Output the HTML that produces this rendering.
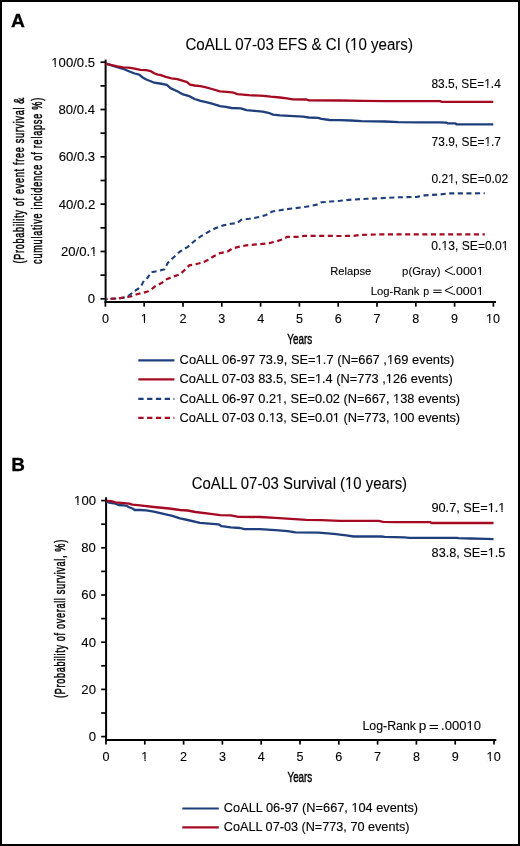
<!DOCTYPE html>
<html><head><meta charset="utf-8"><style>
html,body{margin:0;padding:0;background:#fff;}
body{width:520px;height:846px;overflow:hidden;}
svg{display:block;will-change:transform;}
text{font-family:"Liberation Sans",sans-serif;}
</style></head><body>
<svg width="520" height="846" viewBox="0 0 520 846">
<rect x="1" y="1" width="518" height="844" fill="#fff" stroke="#000" stroke-width="2"/>
<text x="10.98" y="27.10" font-size="18.5" font-weight="bold" textLength="13.90" lengthAdjust="spacingAndGlyphs" fill="#000" stroke="#000" stroke-width="0.3">A</text>
<text x="185.44" y="50.40" font-size="15.8" textLength="227.49" lengthAdjust="spacingAndGlyphs" fill="#000" stroke="#000" stroke-width="0.1">CoALL 07-03 EFS &amp; CI (10 years)</text>
<rect x="350.70" y="47.92" width="3.12" height="2.88" fill="#fff"/>
<rect x="355.19" y="47.92" width="3.01" height="2.88" fill="#fff"/>
<line x1="105.6" y1="59.6" x2="105.6" y2="302.9" stroke="#000" stroke-width="2"/>
<line x1="104.6" y1="301.9" x2="496.0" y2="301.9" stroke="#000" stroke-width="2"/>
<line x1="100.5" y1="298.8" x2="105.6" y2="298.8" stroke="#000" stroke-width="1.7"/>
<line x1="100.5" y1="275.14" x2="105.6" y2="275.14" stroke="#000" stroke-width="1.7"/>
<line x1="100.5" y1="251.48000000000002" x2="105.6" y2="251.48000000000002" stroke="#000" stroke-width="1.7"/>
<line x1="100.5" y1="227.82" x2="105.6" y2="227.82" stroke="#000" stroke-width="1.7"/>
<line x1="100.5" y1="204.16000000000003" x2="105.6" y2="204.16000000000003" stroke="#000" stroke-width="1.7"/>
<line x1="100.5" y1="180.5" x2="105.6" y2="180.5" stroke="#000" stroke-width="1.7"/>
<line x1="100.5" y1="156.84" x2="105.6" y2="156.84" stroke="#000" stroke-width="1.7"/>
<line x1="100.5" y1="133.18" x2="105.6" y2="133.18" stroke="#000" stroke-width="1.7"/>
<line x1="100.5" y1="109.52000000000001" x2="105.6" y2="109.52000000000001" stroke="#000" stroke-width="1.7"/>
<line x1="100.5" y1="85.86000000000001" x2="105.6" y2="85.86000000000001" stroke="#000" stroke-width="1.7"/>
<line x1="100.5" y1="62.19999999999999" x2="105.6" y2="62.19999999999999" stroke="#000" stroke-width="1.7"/>
<line x1="105.4" y1="301.9" x2="105.4" y2="306.7" stroke="#000" stroke-width="1.7"/>
<line x1="144.2" y1="301.9" x2="144.2" y2="306.7" stroke="#000" stroke-width="1.7"/>
<line x1="183.0" y1="301.9" x2="183.0" y2="306.7" stroke="#000" stroke-width="1.7"/>
<line x1="221.8" y1="301.9" x2="221.8" y2="306.7" stroke="#000" stroke-width="1.7"/>
<line x1="260.6" y1="301.9" x2="260.6" y2="306.7" stroke="#000" stroke-width="1.7"/>
<line x1="299.4" y1="301.9" x2="299.4" y2="306.7" stroke="#000" stroke-width="1.7"/>
<line x1="338.2" y1="301.9" x2="338.2" y2="306.7" stroke="#000" stroke-width="1.7"/>
<line x1="377.0" y1="301.9" x2="377.0" y2="306.7" stroke="#000" stroke-width="1.7"/>
<line x1="415.79999999999995" y1="301.9" x2="415.79999999999995" y2="306.7" stroke="#000" stroke-width="1.7"/>
<line x1="454.6" y1="301.9" x2="454.6" y2="306.7" stroke="#000" stroke-width="1.7"/>
<line x1="493.4" y1="301.9" x2="493.4" y2="306.7" stroke="#000" stroke-width="1.7"/>
<text x="87.77" y="303.25" font-size="12.5" textLength="7.30" lengthAdjust="spacingAndGlyphs" fill="#000" stroke="#000" stroke-width="0.1">0</text>
<text x="60.95" y="255.93" font-size="12.5" textLength="36.49" lengthAdjust="spacingAndGlyphs" fill="#000" stroke="#000" stroke-width="0.1">20/0.1</text>
<rect x="90.64" y="253.70" width="2.78" height="2.63" fill="#fff"/>
<rect x="94.62" y="253.70" width="2.68" height="2.63" fill="#fff"/>
<text x="58.79" y="208.61" font-size="12.5" textLength="36.49" lengthAdjust="spacingAndGlyphs" fill="#000" stroke="#000" stroke-width="0.1">40/0.2</text>
<text x="58.69" y="161.29" font-size="12.5" textLength="36.49" lengthAdjust="spacingAndGlyphs" fill="#000" stroke="#000" stroke-width="0.1">60/0.3</text>
<text x="58.48" y="113.97" font-size="12.5" textLength="36.49" lengthAdjust="spacingAndGlyphs" fill="#000" stroke="#000" stroke-width="0.1">80/0.4</text>
<text x="51.34" y="66.65" font-size="12.5" textLength="43.79" lengthAdjust="spacingAndGlyphs" fill="#000" stroke="#000" stroke-width="0.1">100/0.5</text>
<rect x="51.84" y="64.42" width="2.78" height="2.63" fill="#fff"/>
<rect x="55.82" y="64.42" width="2.68" height="2.63" fill="#fff"/>
<text x="101.90" y="322.90" font-size="12.6" textLength="7.01" lengthAdjust="spacingAndGlyphs" fill="#000" stroke="#000" stroke-width="0.1">0</text>
<text x="140.75" y="322.90" font-size="12.6" textLength="7.01" lengthAdjust="spacingAndGlyphs" fill="#000" stroke="#000" stroke-width="0.1">1</text>
<rect x="141.21" y="320.66" width="2.69" height="2.64" fill="#fff"/>
<rect x="145.06" y="320.66" width="2.59" height="2.64" fill="#fff"/>
<text x="179.50" y="322.90" font-size="12.6" textLength="7.01" lengthAdjust="spacingAndGlyphs" fill="#000" stroke="#000" stroke-width="0.1">2</text>
<text x="218.30" y="322.90" font-size="12.6" textLength="7.01" lengthAdjust="spacingAndGlyphs" fill="#000" stroke="#000" stroke-width="0.1">3</text>
<text x="257.15" y="322.90" font-size="12.6" textLength="7.01" lengthAdjust="spacingAndGlyphs" fill="#000" stroke="#000" stroke-width="0.1">4</text>
<text x="295.90" y="322.90" font-size="12.6" textLength="7.01" lengthAdjust="spacingAndGlyphs" fill="#000" stroke="#000" stroke-width="0.1">5</text>
<text x="334.65" y="322.90" font-size="12.6" textLength="7.01" lengthAdjust="spacingAndGlyphs" fill="#000" stroke="#000" stroke-width="0.1">6</text>
<text x="373.50" y="322.90" font-size="12.6" textLength="7.01" lengthAdjust="spacingAndGlyphs" fill="#000" stroke="#000" stroke-width="0.1">7</text>
<text x="412.30" y="322.90" font-size="12.6" textLength="7.01" lengthAdjust="spacingAndGlyphs" fill="#000" stroke="#000" stroke-width="0.1">8</text>
<text x="451.10" y="322.90" font-size="12.6" textLength="7.01" lengthAdjust="spacingAndGlyphs" fill="#000" stroke="#000" stroke-width="0.1">9</text>
<text x="486.04" y="322.90" font-size="12.6" textLength="14.02" lengthAdjust="spacingAndGlyphs" fill="#000" stroke="#000" stroke-width="0.1">10</text>
<rect x="486.50" y="320.66" width="2.69" height="2.64" fill="#fff"/>
<rect x="490.35" y="320.66" width="2.59" height="2.64" fill="#fff"/>
<text transform="translate(24.30,263.43) rotate(-90) scale(0.64,1)" font-size="14.3" textLength="259.22" lengthAdjust="spacing" stroke="#000" stroke-width="0.5">(Probability of event free survival &amp;</text>
<text transform="translate(41.60,263.93) rotate(-90) scale(0.64,1)" font-size="14.3" textLength="259.64" lengthAdjust="spacing" stroke="#000" stroke-width="0.5">cumulative incidence of relapse %)</text>
<text x="287.34" y="344.00" font-size="15.1" textLength="24.83" lengthAdjust="spacingAndGlyphs" fill="#000" stroke="#000" stroke-width="0.45">Years</text>
<text x="431.40" y="87.60" font-size="12" textLength="69.42" lengthAdjust="spacingAndGlyphs" fill="#000" stroke="#000" stroke-width="0.1">83.5, SE=1.4</text>
<rect x="484.62" y="85.40" width="2.57" height="2.60" fill="#fff"/>
<rect x="488.29" y="85.40" width="2.48" height="2.60" fill="#fff"/>
<text x="431.60" y="145.60" font-size="12" textLength="69.42" lengthAdjust="spacingAndGlyphs" fill="#000" stroke="#000" stroke-width="0.1">73.9, SE=1.7</text>
<rect x="484.82" y="143.40" width="2.57" height="2.60" fill="#fff"/>
<rect x="488.49" y="143.40" width="2.48" height="2.60" fill="#fff"/>
<text x="431.40" y="182.70" font-size="12" textLength="76.80" lengthAdjust="spacingAndGlyphs" fill="#000" stroke="#000" stroke-width="0.1">0.21, SE=0.02</text>
<rect x="448.59" y="180.50" width="2.59" height="2.60" fill="#fff"/>
<rect x="452.29" y="180.50" width="2.50" height="2.60" fill="#fff"/>
<text x="431.39" y="250.30" font-size="12" textLength="77.23" lengthAdjust="spacingAndGlyphs" fill="#000" stroke="#000" stroke-width="0.1">0.13, SE=0.01</text>
<rect x="441.94" y="248.10" width="2.61" height="2.60" fill="#fff"/>
<rect x="445.65" y="248.10" width="2.51" height="2.60" fill="#fff"/>
<rect x="502.30" y="248.10" width="2.61" height="2.60" fill="#fff"/>
<rect x="506.02" y="248.10" width="2.51" height="2.60" fill="#fff"/>
<text x="330.21" y="274.80" font-size="11.3" textLength="41.15" lengthAdjust="spacingAndGlyphs" fill="#000" stroke="#000" stroke-width="0.1">Relapse</text>
<text x="402.10" y="274.80" font-size="11.3" textLength="38.40" lengthAdjust="spacingAndGlyphs" fill="#000" stroke="#000" stroke-width="0.1">p(Gray)</text>
<path d="M452.7,266.7 L444.9,270.8 L453.2,274.6" fill="none" stroke="#000" stroke-width="1"/>
<text x="452.60" y="274.80" font-size="11.3" textLength="30.97" lengthAdjust="spacingAndGlyphs" fill="#000" stroke="#000" stroke-width="0.1">.0001</text>
<rect x="477.14" y="272.66" width="2.65" height="2.54" fill="#fff"/>
<rect x="480.92" y="272.66" width="2.55" height="2.54" fill="#fff"/>
<text x="370.70" y="294.60" font-size="11.3" textLength="48.79" lengthAdjust="spacingAndGlyphs" fill="#000" stroke="#000" stroke-width="0.1">Log-Rank</text>
<text x="423.34" y="294.60" font-size="11.3" textLength="5.91" lengthAdjust="spacingAndGlyphs" fill="#000" stroke="#000" stroke-width="0.1">p</text>
<line x1="433.3" y1="290.2" x2="441.6" y2="290.2" stroke="#000" stroke-width="0.95"/>
<line x1="433.3" y1="292.5" x2="441.6" y2="292.5" stroke="#000" stroke-width="0.95"/>
<path d="M452.8,286.5 L444.9,290.5 L453.3,294.2" fill="none" stroke="#000" stroke-width="1"/>
<text x="452.50" y="294.60" font-size="11.3" textLength="31.09" lengthAdjust="spacingAndGlyphs" fill="#000" stroke="#000" stroke-width="0.1">.0001</text>
<rect x="477.13" y="292.46" width="2.66" height="2.54" fill="#fff"/>
<rect x="480.92" y="292.46" width="2.56" height="2.54" fill="#fff"/>
<path d="M138.3,360.3 L174.4,360.3" fill="none" stroke="#1f3f7c" stroke-width="2.2" stroke-linejoin="round"/>
<text x="179.58" y="364.20" font-size="12.5" textLength="274.72" lengthAdjust="spacingAndGlyphs" fill="#000" stroke="#000" stroke-width="0.12">CoALL 06-97 73.9, SE=1.7 (N=667 ,169 events)</text>
<rect x="316.12" y="361.97" width="2.74" height="2.63" fill="#fff"/>
<rect x="320.04" y="361.97" width="2.64" height="2.63" fill="#fff"/>
<rect x="387.42" y="361.97" width="2.74" height="2.63" fill="#fff"/>
<rect x="391.34" y="361.97" width="2.64" height="2.63" fill="#fff"/>
<path d="M138.3,379.4 L174.4,379.4" fill="none" stroke="#a50a22" stroke-width="2.2" stroke-linejoin="round"/>
<text x="179.58" y="383.40" font-size="12.5" textLength="273.22" lengthAdjust="spacingAndGlyphs" fill="#000" stroke="#000" stroke-width="0.12">CoALL 07-03 83.5, SE=1.4 (N=773 ,126 events)</text>
<rect x="315.37" y="381.17" width="2.73" height="2.63" fill="#fff"/>
<rect x="319.27" y="381.17" width="2.63" height="2.63" fill="#fff"/>
<rect x="386.28" y="381.17" width="2.73" height="2.63" fill="#fff"/>
<rect x="390.18" y="381.17" width="2.63" height="2.63" fill="#fff"/>
<path d="M138.3,398.8 L174.4,398.8" fill="none" stroke="#1f3f7c" stroke-width="2.2" stroke-linejoin="round" stroke-dasharray="5.3 3.5"/>
<text x="179.58" y="402.60" font-size="12.5" textLength="280.57" lengthAdjust="spacingAndGlyphs" fill="#000" stroke="#000" stroke-width="0.12">CoALL 06-97 0.21, SE=0.02 (N=667, 138 events)</text>
<rect x="276.60" y="400.37" width="2.73" height="2.63" fill="#fff"/>
<rect x="280.50" y="400.37" width="2.63" height="2.63" fill="#fff"/>
<rect x="393.58" y="400.37" width="2.73" height="2.63" fill="#fff"/>
<rect x="397.48" y="400.37" width="2.63" height="2.63" fill="#fff"/>
<path d="M138.3,417.9 L174.4,417.9" fill="none" stroke="#a50a22" stroke-width="2.2" stroke-linejoin="round" stroke-dasharray="5.3 3.5"/>
<text x="179.58" y="421.60" font-size="12.5" textLength="280.57" lengthAdjust="spacingAndGlyphs" fill="#000" stroke="#000" stroke-width="0.12">CoALL 07-03 0.13, SE=0.01 (N=773, 100 events)</text>
<rect x="269.46" y="419.37" width="2.73" height="2.63" fill="#fff"/>
<rect x="273.37" y="419.37" width="2.63" height="2.63" fill="#fff"/>
<rect x="333.31" y="419.37" width="2.73" height="2.63" fill="#fff"/>
<rect x="337.21" y="419.37" width="2.63" height="2.63" fill="#fff"/>
<rect x="393.58" y="419.37" width="2.73" height="2.63" fill="#fff"/>
<rect x="397.48" y="419.37" width="2.63" height="2.63" fill="#fff"/>
<path d="M105.8,63.6 L111.5,65.4 L117.3,67.1 L123.1,68.8 L128.8,71.2 L134.6,73.5 L139.2,74.6 L142.7,77.5 L146.2,79.5 L150.8,81.3 L154.2,82.7 L160.0,83.5 L166.9,84.8 L170.4,88.1 L177.3,91.3 L183.1,94.4 L190.0,96.4 L194.6,99.0 L200.4,100.8 L206.2,102.2 L211.9,103.7 L217.7,105.4 L220.0,106.2 L225.8,106.8 L231.5,108.0 L240.8,108.3 L246.5,110.2 L254.6,110.9 L262.7,111.7 L269.6,113.2 L273.1,114.6 L280.0,115.4 L289.2,115.9 L303.1,116.7 L308.8,117.5 L318.1,117.9 L321.5,118.8 L329.6,120.0 L340.0,120.1 L350.8,120.5 L361.5,121.2 L384.6,121.5 L398.5,122.2 L420.0,122.3 L438.5,122.4 L446.5,122.6 L447.5,123.3 L455.5,123.4 L456.5,124.3 L493.3,124.3" fill="none" stroke="#1f3f7c" stroke-width="2.3" stroke-linejoin="round"/>
<path d="M105.8,63.6 L111.5,65.0 L117.3,66.3 L123.1,67.3 L128.8,67.7 L134.6,68.6 L140.4,69.8 L146.2,70.2 L150.8,71.2 L154.2,73.2 L157.7,74.6 L160.0,74.8 L165.8,76.8 L171.5,78.3 L177.3,79.1 L183.1,80.9 L187.1,82.1 L190.0,84.6 L194.6,85.5 L200.4,86.1 L206.2,87.3 L211.9,89.0 L220.0,91.4 L226.9,91.9 L233.8,92.7 L237.3,94.1 L248.8,95.2 L263.8,95.8 L270.8,96.7 L280.0,97.5 L286.9,98.3 L292.7,99.4 L306.5,99.5 L308.8,100.3 L340.0,100.5 L363.0,100.9 L386.0,101.1 L440.0,101.1 L441.5,101.8 L493.3,101.8" fill="none" stroke="#a50a22" stroke-width="2.3" stroke-linejoin="round"/>
<path d="M106.2,298.9 L118.5,298.5 L124.6,297.4 L129.2,295.4 L133.8,291.5 L138.5,288.5 L141.5,285.4 L143.8,280.8 L147.7,277.7 L150.8,272.3 L156.9,271.2 L164.6,269.2 L167.7,263.1 L172.3,258.5 L180.0,251.5 L187.7,246.9 L195.4,240.3 L200.0,236.9 L207.7,232.3 L215.4,228.2 L223.1,225.4 L230.8,223.8 L236.9,223.1 L241.5,219.7 L249.2,218.8 L260.0,216.9 L266.2,214.9 L272.3,211.5 L280.0,210.3 L286.2,209.2 L295.4,208.2 L309.2,206.2 L316.9,204.6 L321.5,202.3 L330.8,201.5 L340.0,200.8 L351.5,199.6 L366.9,198.8 L378.5,198.3 L397.7,197.3 L416.9,196.9 L424.6,195.4 L440.0,194.4 L450.0,193.4 L484.8,193.3" fill="none" stroke="#1f3f7c" stroke-width="2.1" stroke-linejoin="round" stroke-dasharray="5.1 3.5" stroke-dashoffset="3.63"/>
<path d="M106.2,298.9 L118.5,298.5 L124.6,297.4 L130.8,296.5 L136.9,294.3 L143.1,292.8 L147.7,291.5 L151.5,289.2 L155.4,286.2 L161.5,283.1 L166.2,279.5 L172.3,276.9 L180.0,274.4 L184.6,270.0 L189.2,265.4 L195.4,264.3 L203.1,262.3 L207.7,260.0 L213.8,256.2 L220.0,253.1 L227.7,251.5 L232.3,248.5 L238.5,246.9 L246.2,245.4 L253.8,244.6 L260.0,244.2 L269.2,243.1 L276.9,241.2 L283.1,239.2 L286.9,236.9 L298.5,236.9 L304.6,235.8 L340.0,236.0 L353.5,235.8 L359.2,235.0 L378.5,234.4 L484.8,234.4" fill="none" stroke="#a50a22" stroke-width="2.2" stroke-linejoin="round" stroke-dasharray="5.1 3.5" stroke-dashoffset="4.57"/>
<text x="11.20" y="470.60" font-size="18.9" font-weight="bold" textLength="13.65" lengthAdjust="spacingAndGlyphs" fill="#000" stroke="#000" stroke-width="0.3">B</text>
<text x="191.75" y="488.80" font-size="15.8" textLength="215.32" lengthAdjust="spacingAndGlyphs" fill="#000" stroke="#000" stroke-width="0.1">CoALL 07-03 Survival (10 years)</text>
<rect x="345.67" y="486.32" width="3.09" height="2.88" fill="#fff"/>
<rect x="350.12" y="486.32" width="2.97" height="2.88" fill="#fff"/>
<line x1="106.1" y1="497.3" x2="106.1" y2="741.1" stroke="#000" stroke-width="2"/>
<line x1="105.1" y1="740.1" x2="496.3" y2="740.1" stroke="#000" stroke-width="2"/>
<line x1="101.2" y1="736.6" x2="106.1" y2="736.6" stroke="#000" stroke-width="1.7"/>
<line x1="101.2" y1="713.0" x2="106.1" y2="713.0" stroke="#000" stroke-width="1.7"/>
<line x1="101.2" y1="689.4" x2="106.1" y2="689.4" stroke="#000" stroke-width="1.7"/>
<line x1="101.2" y1="665.8" x2="106.1" y2="665.8" stroke="#000" stroke-width="1.7"/>
<line x1="101.2" y1="642.2" x2="106.1" y2="642.2" stroke="#000" stroke-width="1.7"/>
<line x1="101.2" y1="618.6" x2="106.1" y2="618.6" stroke="#000" stroke-width="1.7"/>
<line x1="101.2" y1="595.0" x2="106.1" y2="595.0" stroke="#000" stroke-width="1.7"/>
<line x1="101.2" y1="571.4" x2="106.1" y2="571.4" stroke="#000" stroke-width="1.7"/>
<line x1="101.2" y1="547.8000000000001" x2="106.1" y2="547.8000000000001" stroke="#000" stroke-width="1.7"/>
<line x1="101.2" y1="524.2" x2="106.1" y2="524.2" stroke="#000" stroke-width="1.7"/>
<line x1="101.2" y1="500.6" x2="106.1" y2="500.6" stroke="#000" stroke-width="1.7"/>
<line x1="106.0" y1="740.1" x2="106.0" y2="744.6" stroke="#000" stroke-width="1.7"/>
<line x1="144.8" y1="740.1" x2="144.8" y2="744.6" stroke="#000" stroke-width="1.7"/>
<line x1="183.6" y1="740.1" x2="183.6" y2="744.6" stroke="#000" stroke-width="1.7"/>
<line x1="222.39999999999998" y1="740.1" x2="222.39999999999998" y2="744.6" stroke="#000" stroke-width="1.7"/>
<line x1="261.2" y1="740.1" x2="261.2" y2="744.6" stroke="#000" stroke-width="1.7"/>
<line x1="300.0" y1="740.1" x2="300.0" y2="744.6" stroke="#000" stroke-width="1.7"/>
<line x1="338.79999999999995" y1="740.1" x2="338.79999999999995" y2="744.6" stroke="#000" stroke-width="1.7"/>
<line x1="377.59999999999997" y1="740.1" x2="377.59999999999997" y2="744.6" stroke="#000" stroke-width="1.7"/>
<line x1="416.4" y1="740.1" x2="416.4" y2="744.6" stroke="#000" stroke-width="1.7"/>
<line x1="455.2" y1="740.1" x2="455.2" y2="744.6" stroke="#000" stroke-width="1.7"/>
<line x1="494.0" y1="740.1" x2="494.0" y2="744.6" stroke="#000" stroke-width="1.7"/>
<text x="88.67" y="741.05" font-size="12.5" textLength="7.30" lengthAdjust="spacingAndGlyphs" fill="#000" stroke="#000" stroke-width="0.1">0</text>
<text x="81.33" y="693.85" font-size="12.5" textLength="14.60" lengthAdjust="spacingAndGlyphs" fill="#000" stroke="#000" stroke-width="0.1">20</text>
<text x="81.33" y="646.65" font-size="12.5" textLength="14.60" lengthAdjust="spacingAndGlyphs" fill="#000" stroke="#000" stroke-width="0.1">40</text>
<text x="81.33" y="599.45" font-size="12.5" textLength="14.60" lengthAdjust="spacingAndGlyphs" fill="#000" stroke="#000" stroke-width="0.1">60</text>
<text x="81.32" y="552.25" font-size="12.5" textLength="14.60" lengthAdjust="spacingAndGlyphs" fill="#000" stroke="#000" stroke-width="0.1">80</text>
<text x="74.08" y="505.05" font-size="12.5" textLength="21.90" lengthAdjust="spacingAndGlyphs" fill="#000" stroke="#000" stroke-width="0.1">100</text>
<rect x="74.58" y="502.82" width="2.78" height="2.63" fill="#fff"/>
<rect x="78.56" y="502.82" width="2.68" height="2.63" fill="#fff"/>
<text x="102.50" y="761.30" font-size="12.6" textLength="7.01" lengthAdjust="spacingAndGlyphs" fill="#000" stroke="#000" stroke-width="0.1">0</text>
<text x="141.35" y="761.30" font-size="12.6" textLength="7.01" lengthAdjust="spacingAndGlyphs" fill="#000" stroke="#000" stroke-width="0.1">1</text>
<rect x="141.81" y="759.06" width="2.69" height="2.64" fill="#fff"/>
<rect x="145.66" y="759.06" width="2.59" height="2.64" fill="#fff"/>
<text x="180.10" y="761.30" font-size="12.6" textLength="7.01" lengthAdjust="spacingAndGlyphs" fill="#000" stroke="#000" stroke-width="0.1">2</text>
<text x="218.90" y="761.30" font-size="12.6" textLength="7.01" lengthAdjust="spacingAndGlyphs" fill="#000" stroke="#000" stroke-width="0.1">3</text>
<text x="257.75" y="761.30" font-size="12.6" textLength="7.01" lengthAdjust="spacingAndGlyphs" fill="#000" stroke="#000" stroke-width="0.1">4</text>
<text x="296.50" y="761.30" font-size="12.6" textLength="7.01" lengthAdjust="spacingAndGlyphs" fill="#000" stroke="#000" stroke-width="0.1">5</text>
<text x="335.25" y="761.30" font-size="12.6" textLength="7.01" lengthAdjust="spacingAndGlyphs" fill="#000" stroke="#000" stroke-width="0.1">6</text>
<text x="374.10" y="761.30" font-size="12.6" textLength="7.01" lengthAdjust="spacingAndGlyphs" fill="#000" stroke="#000" stroke-width="0.1">7</text>
<text x="412.90" y="761.30" font-size="12.6" textLength="7.01" lengthAdjust="spacingAndGlyphs" fill="#000" stroke="#000" stroke-width="0.1">8</text>
<text x="451.70" y="761.30" font-size="12.6" textLength="7.01" lengthAdjust="spacingAndGlyphs" fill="#000" stroke="#000" stroke-width="0.1">9</text>
<text x="486.64" y="761.30" font-size="12.6" textLength="14.02" lengthAdjust="spacingAndGlyphs" fill="#000" stroke="#000" stroke-width="0.1">10</text>
<rect x="487.10" y="759.06" width="2.69" height="2.64" fill="#fff"/>
<rect x="490.95" y="759.06" width="2.59" height="2.64" fill="#fff"/>
<text transform="translate(65.00,697.98) rotate(-90) scale(0.64,1)" font-size="14.3" textLength="247.17" lengthAdjust="spacing" stroke="#000" stroke-width="0.5">(Probability of overall survival, %)</text>
<text x="287.54" y="781.90" font-size="15.1" textLength="24.62" lengthAdjust="spacingAndGlyphs" fill="#000" stroke="#000" stroke-width="0.45">Years</text>
<text x="431.46" y="512.30" font-size="12" textLength="73.89" lengthAdjust="spacingAndGlyphs" fill="#000" stroke="#000" stroke-width="0.1">90.7, SE=1.1</text>
<rect x="488.14" y="510.10" width="2.71" height="2.60" fill="#fff"/>
<rect x="492.01" y="510.10" width="2.61" height="2.60" fill="#fff"/>
<rect x="498.75" y="510.10" width="2.71" height="2.60" fill="#fff"/>
<rect x="502.62" y="510.10" width="2.61" height="2.60" fill="#fff"/>
<text x="431.57" y="557.00" font-size="12" textLength="73.88" lengthAdjust="spacingAndGlyphs" fill="#000" stroke="#000" stroke-width="0.1">83.8, SE=1.5</text>
<rect x="488.24" y="554.80" width="2.71" height="2.60" fill="#fff"/>
<rect x="492.12" y="554.80" width="2.61" height="2.60" fill="#fff"/>
<text x="362.47" y="730.30" font-size="12" textLength="53.46" lengthAdjust="spacingAndGlyphs" fill="#000" stroke="#000" stroke-width="0.1">Log-Rank</text>
<text x="418.70" y="730.30" font-size="12" textLength="7.54" lengthAdjust="spacingAndGlyphs" fill="#000" stroke="#000" stroke-width="0.1">p</text>
<line x1="429.6" y1="725.5" x2="438.0" y2="725.5" stroke="#000" stroke-width="1.0"/>
<line x1="429.6" y1="728.5" x2="438.0" y2="728.5" stroke="#000" stroke-width="1.0"/>
<text x="441.11" y="730.30" font-size="12" textLength="39.84" lengthAdjust="spacingAndGlyphs" fill="#000" stroke="#000" stroke-width="0.1">.00010</text>
<rect x="466.95" y="728.10" width="2.76" height="2.60" fill="#fff"/>
<rect x="470.90" y="728.10" width="2.66" height="2.60" fill="#fff"/>
<path d="M182.3,808.5 L218.8,808.5" fill="none" stroke="#1f3f7c" stroke-width="2.2" stroke-linejoin="round"/>
<text x="223.89" y="812.30" font-size="12.5" textLength="194.21" lengthAdjust="spacingAndGlyphs" fill="#000" stroke="#000" stroke-width="0.12">CoALL 06-97 (N=667, 104 events)</text>
<rect x="351.90" y="810.07" width="2.72" height="2.63" fill="#fff"/>
<rect x="355.79" y="810.07" width="2.62" height="2.63" fill="#fff"/>
<path d="M182.3,827.3 L218.8,827.3" fill="none" stroke="#a50a22" stroke-width="2.2" stroke-linejoin="round"/>
<text x="223.89" y="830.80" font-size="12.5" textLength="185.64" lengthAdjust="spacingAndGlyphs" fill="#000" stroke="#000" stroke-width="0.12">CoALL 07-03 (N=773, 70 events)</text>
<path d="M106.5,501.5 L109.2,502.7 L115.4,503.6 L118.5,505.0 L126.2,505.6 L129.2,507.3 L133.1,508.8 L134.6,510.0 L140.0,510.0 L146.2,510.4 L153.8,511.6 L164.6,514.2 L172.3,515.8 L180.0,518.4 L187.7,520.0 L200.0,522.8 L218.5,524.3 L221.5,526.2 L230.8,527.4 L240.0,528.0 L244.6,529.2 L260.0,529.2 L275.4,530.1 L287.7,531.2 L295.4,532.4 L318.5,532.7 L333.8,533.9 L340.0,534.6 L346.2,535.4 L353.8,536.5 L381.5,536.5 L384.6,536.9 L404.6,537.4 L409.2,537.8 L420.0,537.8 L456.9,537.8 L458.5,538.2 L470.8,538.5 L486.2,538.9 L493.5,539.1" fill="none" stroke="#1f3f7c" stroke-width="2.3" stroke-linejoin="round"/>
<path d="M106.5,500.8 L111.5,501.2 L115.4,502.3 L121.5,502.9 L129.2,503.6 L132.3,504.6 L140.0,505.4 L153.8,507.0 L169.2,508.5 L180.0,510.0 L187.7,510.5 L195.4,512.0 L210.8,513.8 L220.0,515.1 L230.8,515.4 L238.5,516.9 L260.0,517.0 L275.4,517.8 L290.8,518.8 L306.2,519.9 L321.5,520.1 L340.0,520.8 L378.5,520.8 L383.1,521.8 L395.4,522.2 L420.0,522.1 L430.0,522.1 L431.5,523.0 L493.5,523.0" fill="none" stroke="#a50a22" stroke-width="2.3" stroke-linejoin="round"/>
</svg>
</body></html>
